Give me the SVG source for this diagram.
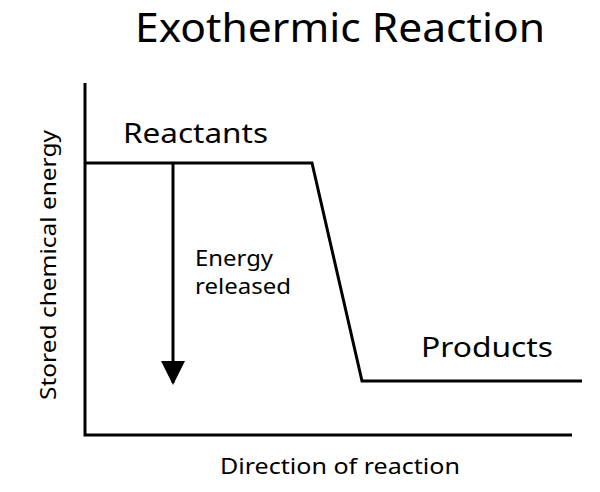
<svg xmlns="http://www.w3.org/2000/svg" width="600" height="492" viewBox="0 0 600 492">
<style>
text{font-family:"Noto Sans","Open Sans",sans-serif;fill:#000}
.ln{stroke:#000;stroke-width:3;fill:none}
</style>
<defs><marker id="ah2" markerWidth="26" markerHeight="24" refX="22" refY="12" orient="auto" markerUnits="userSpaceOnUse"><path d="M0,0 L24,12 L0,24 z" fill="#000"/></marker></defs>
<rect width="600" height="492" fill="#fff"/>
<text x="135" y="42" font-size="40" textLength="410" lengthAdjust="spacingAndGlyphs">Exothermic Reaction</text>
<g id="axes"><path class="ln" d="M85,83 V435 H572"/></g>
<g id="curve"><path class="ln" d="M85,163 H312 L362,381 H582"/></g>
<g id="connectors"><line class="ln" x1="173" y1="163" x2="173" y2="383" marker-end="url(#ah2)"/></g>
<g id="reactants"><text x="123" y="143" font-size="28" textLength="145" lengthAdjust="spacingAndGlyphs">Reactants</text></g>
<g id="products"><text x="421" y="357" font-size="28" textLength="132" lengthAdjust="spacingAndGlyphs">Products</text></g>
<g id="energy"><text x="195" y="266" font-size="21" textLength="78" lengthAdjust="spacingAndGlyphs">Energy</text><text x="195" y="294" font-size="21" textLength="96" lengthAdjust="spacingAndGlyphs">released</text></g>
<text x="220" y="474" font-size="22" textLength="240" lengthAdjust="spacingAndGlyphs">Direction of reaction</text>
<text transform="translate(56,400) rotate(-90)" font-size="22" textLength="270" lengthAdjust="spacingAndGlyphs">Stored chemical energy</text>
</svg>
